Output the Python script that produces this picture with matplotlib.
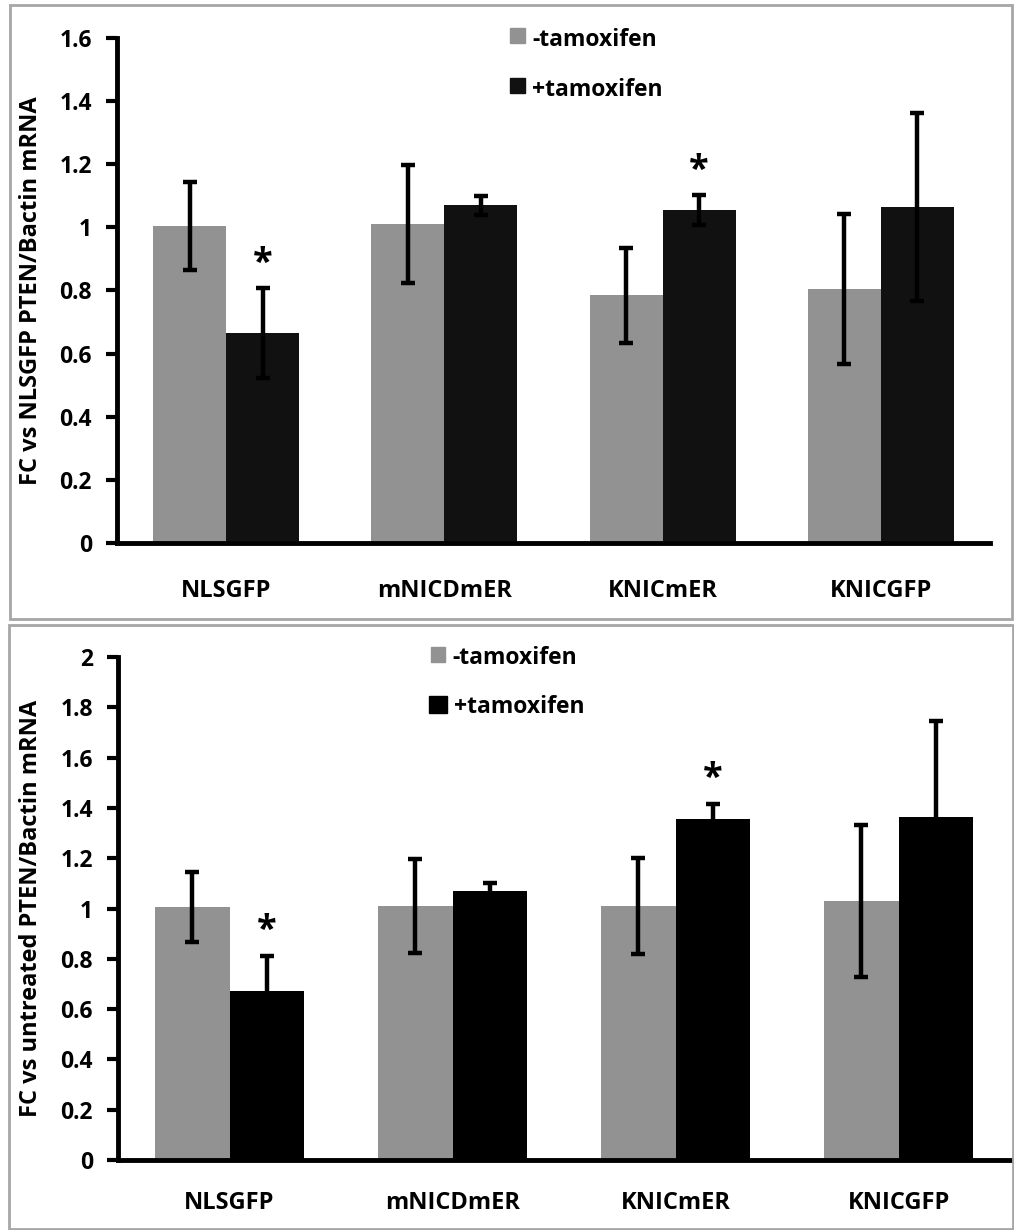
import numpy as np
import matplotlib.pyplot as plt
from matplotlib.patches import Rectangle

# 4 groups, -tamoxifen vs +tamoxifen
groups = ["NLSGFP", "mNICDmER", "KNICmER", "KNICGFP"]
leg_labels = ["-tamoxifen", "+tamoxifen"]

# top panel: FC vs NLSGFP
top_minus = [1.005, 1.01, 0.785, 0.805]
top_minus_err = [0.14, 0.187, 0.15, 0.237]
top_plus = [0.665, 1.07, 1.055, 1.065]
top_plus_err = [0.143, 0.03, 0.047, 0.297]
top_star = [0, 2]  # groups with * over +tamoxifen

# bottom panel: FC vs untreated
bot_minus = [1.005, 1.01, 1.01, 1.03]
bot_minus_err = [0.14, 0.187, 0.19, 0.303]
bot_plus = [0.67, 1.07, 1.355, 1.365]
bot_plus_err = [0.14, 0.033, 0.06, 0.38]
bot_star = [0, 2]

W, H = 1014, 1230
fig = plt.figure(figsize=(W / 100, H / 100), dpi=100)


def px_rect(x0, y0, x1, y1, **kw):
    # rectangle in pixel coords (y down) -> figure coords
    return Rectangle((x0 / W, 1 - y1 / H), (x1 - x0) / W, (y1 - y0) / H,
                     transform=fig.transFigure, **kw)


# grey frames round each panel
fig.patches.append(px_rect(10, 5, 1012, 619, fill=False, ec="#a6a6a6", lw=2))
fig.patches.append(px_rect(9, 625, 1013, 1229, fill=False, ec="#a6a6a6", lw=2))

font = ["Open Sans", "DejaVu Sans"]


def panel(rect, minus, minus_err, plus, plus_err, stars, ymax, ylabel,
          legend, black, star_off, xpad):
    ax = fig.add_axes([rect[0] / W, 1 - rect[3] / H, (rect[2] - rect[0]) / W, (rect[3] - rect[1]) / H])
    x = np.arange(len(groups))
    bw = 0.335
    ax.bar(x - bw / 2, minus, bw, color="#929292", zorder=2)
    ax.bar(x + bw / 2, plus, bw, color=black, zorder=2)
    ek = dict(fmt="none", ecolor="black", elinewidth=3.2, capsize=5, capthick=3.2, zorder=3)
    ax.errorbar(x - bw / 2, minus, yerr=minus_err, **ek)
    ax.errorbar(x + bw / 2, plus, yerr=plus_err, **ek)
    for i in stars:
        ax.text(i + bw / 2, plus[i] + plus_err[i] + star_off, "*", ha="center", va="bottom",
                fontsize=26, fontweight="bold", family=font)
    ax.set_xlim(-0.5, 3.5)
    ax.set_ylim(0, ymax)
    yt = np.round(np.arange(0, ymax + 1e-9, 0.2), 1)
    ax.set_yticks(yt)
    ax.set_yticklabels([f"{v:g}" for v in yt], fontsize=16.5, fontweight="bold", family=font)
    ax.set_xticks(x)
    ax.set_xticklabels(groups, fontsize=17, fontweight="bold", family=font)
    ax.tick_params(axis="x", length=0, pad=xpad)
    ax.tick_params(axis="y", length=8, width=3, direction="out", pad=10)
    for s in ["top", "right"]:
        ax.spines[s].set_visible(False)
    for s in ["left", "bottom"]:
        ax.spines[s].set_linewidth(3.5)
    ax.set_ylabel(ylabel, fontsize=17, fontweight="bold", family=font)
    ax.yaxis.set_label_coords((43 - rect[0]) / (rect[2] - rect[0]), 0.5)
    # legend drawn by hand: square + text
    for lab, col, sq, base in zip(leg_labels, ["#929292", black], legend[0], legend[1]):
        fig.patches.append(px_rect(*sq, color=col))
        fig.text((sq[2] + 7) / W, 1 - base / H, lab, fontsize=16.5, fontweight="bold",
                 va="baseline", family=font)
    return ax


panel((117, 38, 990, 543), top_minus, top_minus_err, top_plus, top_plus_err, top_star,
      1.6, "FC vs NLSGFP PTEN/Bactin mRNA",
      ([(510, 28, 525, 43), (510, 78, 525, 93)], [46, 96]), "#111111", 0.02, 26)
panel((118, 657, 1010, 1160), bot_minus, bot_minus_err, bot_plus, bot_plus_err, bot_star,
      2.0, "FC vs untreated PTEN/Bactin mRNA",
      ([(431, 647, 445, 662), (429, 696, 447, 713)], [664, 713]), "#000000", 0.03, 22)

fig.savefig("out.png", dpi=100)
